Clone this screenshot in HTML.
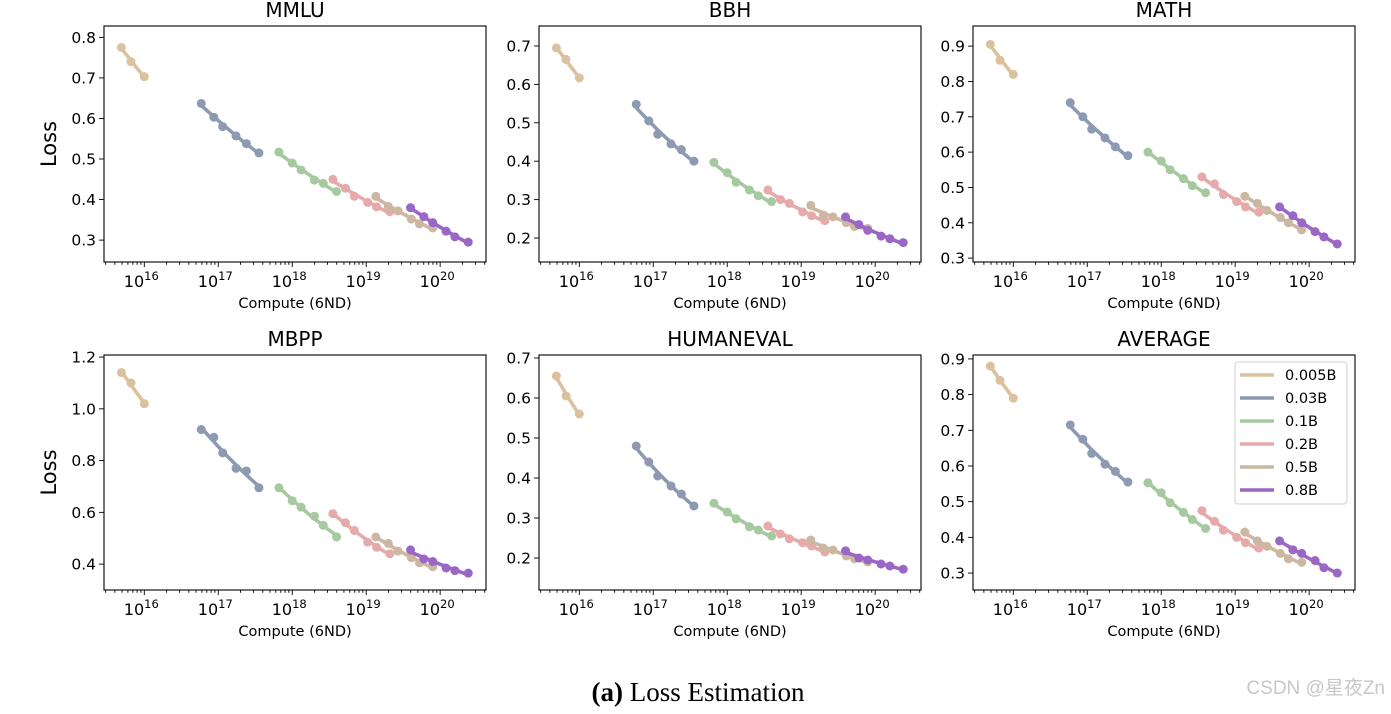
<!DOCTYPE html>
<html><head><meta charset="utf-8"><style>
body{margin:0;background:#fff;width:1391px;height:709px;overflow:hidden;}
svg text{font-family:"DejaVu Sans","Liberation Sans",sans-serif;}
</style></head><body>
<svg id="fig" width="1391" height="709" xmlns="http://www.w3.org/2000/svg">
<text x="698" y="701" text-anchor="middle" font-size="27" style="font-family:'Liberation Serif',serif"><tspan font-weight="bold">(a)</tspan> Loss Estimation</text>
<text x="1385" y="694" text-anchor="end" font-size="19" fill="#c8c8c8" style="font-family:'Liberation Sans','Noto Sans CJK SC',sans-serif">CSDN @星夜Zn</text>
</svg>
<script>
const models = ["0.005B","0.03B","0.1B","0.2B","0.5B","0.8B"];
const colors = ["#dbc29e","#8e9ab2","#a6c9a0","#e6aaaa","#cbb7a2","#9a67c5"];
const computeLog = [
 [15.69,15.82,16.0],
 [16.77,16.94,17.06,17.24,17.38,17.55],
 [17.82,18.0,18.12,18.3,18.42,18.6],
 [18.55,18.72,18.84,19.02,19.14,19.32],
 [19.13,19.3,19.43,19.61,19.72,19.9],
 [19.6,19.78,19.9,20.08,20.2,20.38]];
const titles = ["MMLU","BBH","MATH","MBPP","HUMANEVAL","AVERAGE"];
const lossMMLU = [[.775,.74,.703],[.637,.603,.58,.557,.538,.515],[.517,.49,.473,.448,.44,.42],[.45,.428,.408,.393,.382,.37],[.408,.383,.372,.352,.34,.33],[.38,.358,.343,.322,.308,.295]];
const lossBBH = [[.695,.665,.617],[.548,.505,.47,.445,.43,.40],[.397,.37,.345,.325,.31,.295],[.325,.30,.29,.268,.258,.245],[.285,.26,.255,.24,.23,.225],[.255,.235,.22,.205,.198,.188]];
const lossMATH = [[.905,.86,.82],[.74,.70,.665,.64,.615,.59],[.60,.575,.55,.525,.505,.485],[.53,.51,.48,.46,.445,.43],[.475,.455,.435,.415,.40,.38],[.445,.42,.40,.375,.36,.34]];
const lossMBPP = [[1.14,1.10,1.02],[.92,.89,.83,.77,.76,.695],[.695,.645,.62,.585,.55,.505],[.595,.56,.53,.485,.465,.44],[.505,.48,.45,.425,.405,.39],[.455,.42,.41,.385,.375,.365]];
const lossHUMANEVAL = [[.655,.605,.56],[.48,.44,.405,.38,.36,.33],[.337,.315,.298,.278,.27,.255],[.28,.26,.248,.238,.23,.215],[.245,.225,.22,.205,.198,.19],[.218,.20,.195,.185,.18,.172]];
const lossAVERAGE = [[.88,.84,.79],[.715,.675,.635,.605,.585,.555],[.553,.525,.497,.47,.45,.425],[.475,.445,.42,.40,.385,.37],[.415,.39,.375,.355,.34,.33],[.39,.365,.355,.335,.315,.30]];
const yTicks = [[0.3,0.4,0.5,0.6,0.7,0.8],[0.2,0.3,0.4,0.5,0.6,0.7],[0.3,0.4,0.5,0.6,0.7,0.8,0.9],[0.4,0.6,0.8,1.0,1.2],[0.2,0.3,0.4,0.5,0.6,0.7],[0.3,0.4,0.5,0.6,0.7,0.8,0.9]];
const yLims = [[0.246,0.828],[0.1375,0.752],[0.289,0.957],[0.30,1.208],[0.12,0.7075],[0.2525,0.911]];
const xDecades = [16,17,18,19,20];

const allLoss=[lossMMLU,lossBBH,lossMATH,lossMBPP,lossHUMANEVAL,lossAVERAGE];
const NS="http://www.w3.org/2000/svg";
const svg=document.getElementById('fig');
function mk(tag,attrs,parent){const e=document.createElementNS(NS,tag);for(const k in attrs)e.setAttribute(k,attrs[k]);(parent||svg).appendChild(e);return e;}
const colX=[104,539,973], rowY=[[26,262],[355,590]], W=382, XMIN=15.455, XMAX=20.62;
for(let p=0;p<6;p++){
  const L=colX[p%3], T=rowY[Math.floor(p/3)][0], B=rowY[Math.floor(p/3)][1];
  const [y0,y1]=yLims[p];
  const sx=v=>L+(v-XMIN)/(XMAX-XMIN)*W;
  const sy=v=>B-(v-y0)/(y1-y0)*(B-T);
  const g=mk('g',{});
  
  
  const t=mk('text',{x:L+W/2,y:T-9,'text-anchor':'middle','font-size':20},g);t.textContent=titles[p];
  
  
  for(let d=15;d<=20;d++){
    for(let m=1;m<10;m++){
      const v=d+Math.log10(m); if(v<XMIN||v>XMAX)continue;
      const x=sx(v);
      mk('line',{x1:x,x2:x,y1:B,y2:B+(m==1?5:2.8),stroke:'#000','stroke-width':0.9},g);
    }
  }
  xDecades.forEach(d=>{
    const tx=mk('text',{x:sx(d)-3,y:B+25,'text-anchor':'middle','font-size':16},g);
    tx.innerHTML='10<tspan font-size="11.5" dy="-7">'+d+'</tspan>';
    
    
  });
  const xl=mk('text',{x:L+W/2,y:B+46,'text-anchor':'middle','font-size':14.5},g);xl.textContent='Compute (6ND)';
  
  
  yTicks[p].forEach(v=>{
    const y=sy(v);
    mk('line',{x1:L-5,x2:L,y1:y,y2:y,stroke:'#000','stroke-width':0.9},g);
    const ty=mk('text',{x:L-8,y:y+5.5,'text-anchor':'end','font-size':15.5},g);ty.textContent=v.toFixed(1);
    
    
  });
  if(p%3==0){
    const yl=mk('text',{x:0,y:0,'text-anchor':'middle','font-size':21,transform:`translate(${L-48},${(T+B)/2}) rotate(-90)`},g);yl.textContent='Loss';
    
    
  }
  allLoss[p].forEach((ys,si)=>{
    const xs=computeLog[si];
    const n=xs.length;
    const lx=ys.map(Math.log10);
    const mx=xs.reduce((a,b)=>a+b)/n, my=lx.reduce((a,b)=>a+b)/n;
    let num=0,den=0;for(let i=0;i<n;i++){num+=(xs[i]-mx)*(lx[i]-my);den+=(xs[i]-mx)**2;}
    const b=num/den;
    const pts=[];
    for(let k=0;k<=20;k++){const v=xs[0]+(xs[n-1]-xs[0])*k/20;pts.push(sx(v).toFixed(1)+','+sy(Math.pow(10,my+b*(v-mx))).toFixed(1));}
    const pl=mk('polyline',{points:pts.join(' '),fill:'none',stroke:colors[si],'stroke-width':3.6},g);
    
    
    for(let i=0;i<n;i++){
      const c=mk('circle',{cx:sx(xs[i]),cy:sy(ys[i]),r:4.5,fill:colors[si]},g);
      
      
    }
  });
  mk('rect',{x:L,y:T,width:W,height:B-T,fill:'none',stroke:'#000','stroke-width':1.1},g);
  if(p==5){
    const lg=mk('g',{},g);
    
    
    mk('rect',{x:1235,y:362,width:112,height:142,rx:3,fill:'#fff',stroke:'#d0d0d0'},lg);
    models.forEach((m,i)=>{
      const y=375+i*23;
      mk('line',{x1:1240,x2:1274,y1:y,y2:y,stroke:colors[i],'stroke-width':3.5},lg);
      const e=mk('text',{x:1285,y:y+5,'font-size':14.5},lg);e.textContent=m;
      
      
    });
  }
}
</script>
</body></html>
